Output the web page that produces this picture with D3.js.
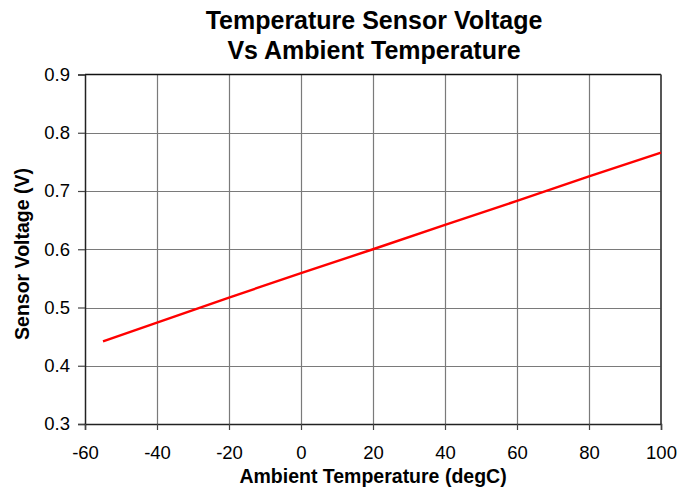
<!DOCTYPE html>
<html><head><meta charset="utf-8">
<script src="https://cdn.jsdelivr.net/npm/d3@7"></script>
<style>body{margin:0;background:#fff;} svg{display:block;font-family:"Liberation Sans",Arial,sans-serif;}</style>
</head><body><svg id="c" width="678" height="489"></svg>
<script>
const temps = [-55, -40, -20, 0, 20, 40, 60, 80, 100];
const volts = [0.442, 0.474, 0.517, 0.559, 0.600, 0.642, 0.683, 0.725, 0.766];
const xTicks = [-60, -40, -20, 0, 20, 40, 60, 80, 100];
const yTicks = [0.3, 0.4, 0.5, 0.6, 0.7, 0.8, 0.9];
const titleLines = ["Temperature Sensor Voltage", "Vs Ambient Temperature"];
const xTitle = "Ambient Temperature (degC)";
const yTitle = "Sensor Voltage (V)";

const svg = d3.select("#c");
const L = 85, R = 661, T = 74.5, B = 424;
const x = d3.scaleLinear().domain([-60, 100]).range([L, R]);
const y = d3.scaleLinear().domain([0.3, 0.9]).range([B, T]);

// grid
svg.append("g").selectAll("line").data(xTicks.slice(1, -1)).join("line")
  .attr("x1", d => Math.round(x(d)) + 0.5).attr("x2", d => Math.round(x(d)) + 0.5)
  .attr("y1", T).attr("y2", B).attr("stroke", "#7a7a7a").attr("stroke-width", 1.2);
svg.append("g").selectAll("line").data(yTicks.slice(1, -1)).join("line")
  .attr("y1", d => Math.round(y(d)) + 0.5).attr("y2", d => Math.round(y(d)) + 0.5)
  .attr("x1", L).attr("x2", R).attr("stroke", "#7a7a7a").attr("stroke-width", 1.2);
// top & right border
svg.append("line").attr("x1", L).attr("x2", R).attr("y1", T).attr("y2", T).attr("stroke", "#111").attr("stroke-width", 1.5);
svg.append("line").attr("x1", R).attr("x2", R).attr("y1", T).attr("y2", B).attr("stroke", "#444").attr("stroke-width", 1.8);

// axes
const yAxis = d3.axisLeft(y).tickValues(yTicks).tickFormat(d3.format(".1f")).tickSize(7).tickPadding(8);
const gy = svg.append("g").attr("transform", `translate(${L},0)`).call(yAxis);
const xAxis = d3.axisBottom(x).tickValues(xTicks).tickFormat(d => String(d)).tickSize(6).tickPadding(16);
const gx = svg.append("g").attr("transform", `translate(0,${B})`).call(xAxis);
[gy, gx].forEach(g => {
  g.select(".domain").attr("stroke", "#222").attr("stroke-width", 1.5);
  g.selectAll(".tick line").attr("stroke", "#444").attr("stroke-width", 1.2);
  g.selectAll("text").attr("font-size", 18.5).attr("fill", "#000").attr("font-family", "Liberation Sans, Arial, sans-serif");
});
gx.selectAll("text").attr("dy", "0.71em");

// line
const line = d3.line().x((d, i) => x(temps[i])).y(d => y(d));
svg.append("path").datum(volts).attr("d", line).attr("fill", "none")
  .attr("stroke", "#ff0000").attr("stroke-width", 2.4);

// titles
svg.append("g").selectAll("text").data(titleLines).join("text")
  .attr("x", 374).attr("y", (d, i) => 29 + i * 30).attr("text-anchor", "middle")
  .attr("font-size", 25).attr("font-weight", "bold").text(d => d);
svg.append("text").attr("x", 373).attr("y", 483).attr("text-anchor", "middle")
  .attr("font-size", 19.5).attr("font-weight", "bold").text(xTitle);
svg.append("text").attr("transform", `translate(29,254) rotate(-90)`)
  .attr("text-anchor", "middle").attr("font-size", 19.5).attr("font-weight", "bold").text(yTitle);
</script></body></html>
